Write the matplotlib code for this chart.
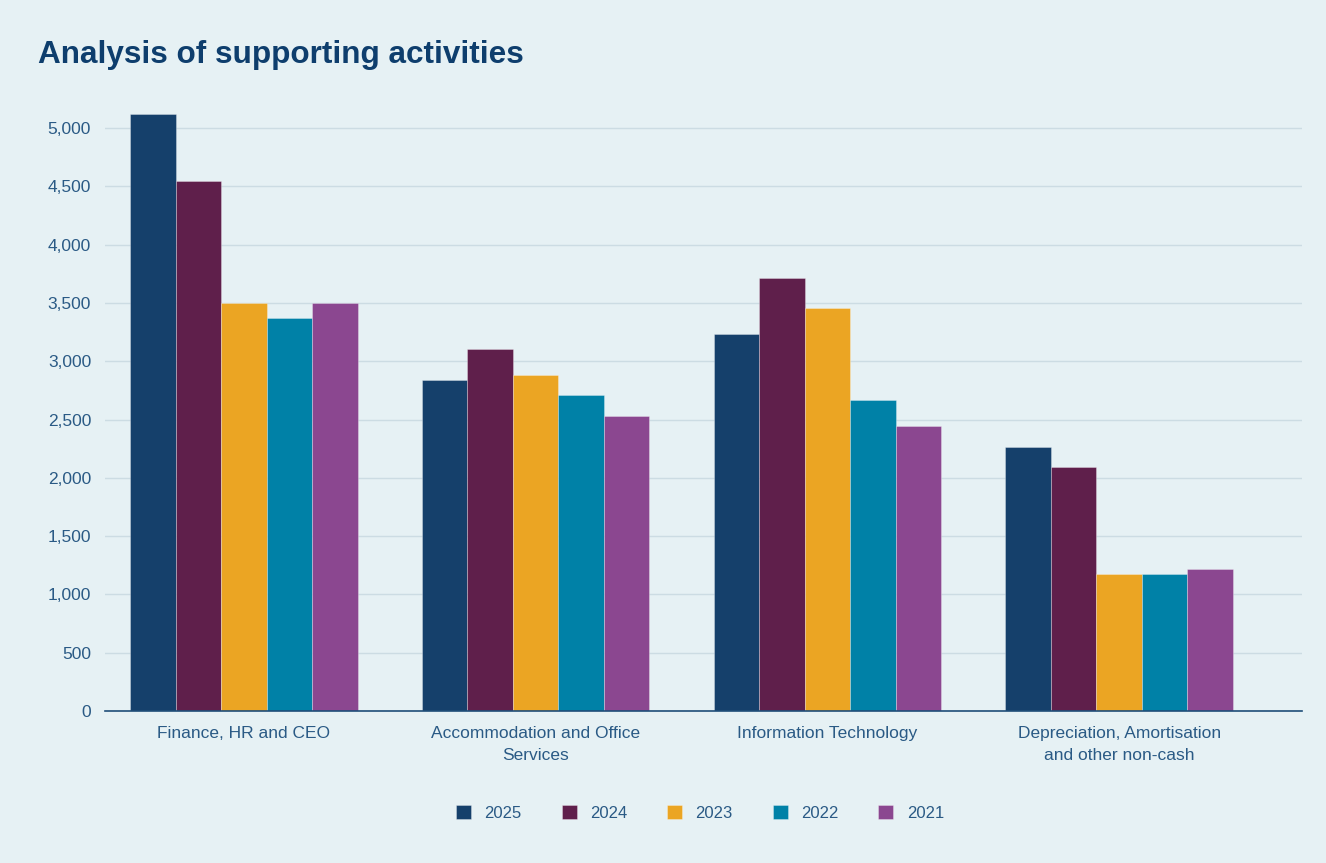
import matplotlib
matplotlib.use('Agg')
import matplotlib.pyplot as plt
import numpy as np

plt.rcParams['font.family'] = ['Liberation Sans', 'DejaVu Sans']

# Данные
categories = ['Finance, HR and CEO', 'Accommodation and Office\nServices',
              'Information Technology',
              'Depreciation, Amortisation\nand other non-cash']
years = ['2025', '2024', '2023', '2022', '2021']
values = {
    '2025': [5120, 2840, 3235, 2265],
    '2024': [4550, 3105, 3715, 2095],
    '2023': [3500, 2885, 3455, 1175],
    '2022': [3370, 2710, 2665, 1175],
    '2021': [3500, 2530, 2445, 1220],
}
yticks = [0, 500, 1000, 1500, 2000, 2500, 3000, 3500, 4000, 4500, 5000]

colors = {
    '2025': '#15406B',
    '2024': '#5F1F4B',
    '2023': '#EBA523',
    '2022': '#0081A7',
    '2021': '#8B4790',
}
BG = '#E6F1F4'
TXT = '#2A5A85'

fig = plt.figure(figsize=(13.26, 8.63), dpi=100, facecolor=BG)
ax = fig.add_axes([105 / 1326, 1 - 711 / 863, 1197 / 1326, 612 / 863])
ax.set_facecolor(BG)

x = np.arange(len(categories))
w = 0.156
for i, yr in enumerate(years):
    ax.bar(x + (i - 2) * w, values[yr], width=w, color=colors[yr],
           edgecolor=(1, 1, 1, 0.35), linewidth=0.6, label=yr, zorder=3)

ax.set_xlim(-0.476, 3.627)
ax.set_ylim(0, 5250)
ax.set_yticks(yticks)
ax.set_yticklabels([f'{v:,}' for v in yticks])
ax.set_xticks(x)
ax.set_xticklabels(categories, linespacing=1.55)
ax.tick_params(axis='both', length=0, colors=TXT, labelsize=12.5)
ax.tick_params(axis='x', pad=11)
ax.tick_params(axis='y', pad=10)

ax.grid(axis='y', color='#CCDCE3', linewidth=1, zorder=0)
for s in ['top', 'right', 'left']:
    ax.spines[s].set_visible(False)
ax.spines['bottom'].set_color('#1F4E79')
ax.spines['bottom'].set_linewidth(1.2)
ax.spines['bottom'].set_zorder(4)

fig.text(38 / 1326, 1 - 55 / 863, 'Analysis of supporting activities',
         fontsize=22.7, fontweight='bold', color='#0E3E6D', va='center')

leg = fig.legend(loc='center', bbox_to_anchor=(700 / 1326, 1 - 813 / 863),
                 ncol=5, frameon=False, fontsize=12, handlelength=0.9,
                 handleheight=0.9, columnspacing=2.4, handletextpad=0.8)
for t in leg.get_texts():
    t.set_color(TXT)

fig.savefig('out.png', dpi=100, facecolor=BG)
